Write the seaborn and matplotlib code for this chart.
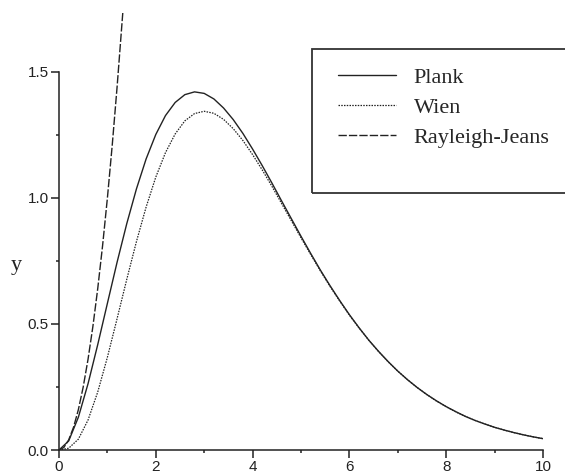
import matplotlib
matplotlib.use("Agg")
import matplotlib.pyplot as plt
import seaborn as sns
from matplotlib.patches import Rectangle
from matplotlib.ticker import MultipleLocator

# values, x step 0.2 from 0 to 10
x_pw = [0.0, 0.2, 0.4, 0.6, 0.8, 1.0, 1.2, 1.4, 1.6, 1.8, 2.0, 2.2, 2.4, 2.6,
        2.8, 3.0, 3.2, 3.4, 3.6, 3.8, 4.0, 4.2, 4.4, 4.6, 4.8, 5.0, 5.2, 5.4,
        5.6, 5.8, 6.0, 6.2, 6.4, 6.6, 6.8, 7.0, 7.2, 7.4, 7.6, 7.8, 8.0, 8.2,
        8.4, 8.6, 8.8, 9.0, 9.2, 9.4, 9.6, 9.8, 10.0]
plank = [0.0, 0.036, 0.130, 0.263, 0.418, 0.582, 0.745, 0.898, 1.036, 1.155,
         1.252, 1.327, 1.379, 1.410, 1.421, 1.415, 1.393, 1.357, 1.311, 1.256,
         1.194, 1.128, 1.059, 0.988, 0.918, 0.848, 0.780, 0.714, 0.652, 0.593,
         0.537, 0.485, 0.436, 0.392, 0.351, 0.313, 0.279, 0.248, 0.220, 0.195,
         0.172, 0.152, 0.133, 0.117, 0.103, 0.090, 0.079, 0.069, 0.060, 0.052,
         0.045]
wien = [0.0, 0.007, 0.043, 0.119, 0.230, 0.368, 0.521, 0.677, 0.827, 0.964,
        1.083, 1.180, 1.254, 1.306, 1.335, 1.344, 1.336, 1.312, 1.275, 1.228,
        1.172, 1.111, 1.046, 0.978, 0.910, 0.842, 0.776, 0.711, 0.649, 0.591,
        0.535, 0.484, 0.436, 0.391, 0.350, 0.313, 0.279, 0.248, 0.220, 0.194,
        0.172, 0.151, 0.133, 0.117, 0.103, 0.090, 0.079, 0.069, 0.060, 0.052,
        0.045]
x_rj = [0.0, 0.1, 0.2, 0.3, 0.4, 0.5, 0.6, 0.7, 0.8, 0.9, 1.0, 1.1, 1.2, 1.3, 1.32]
rayleigh = [0.0, 0.01, 0.04, 0.09, 0.16, 0.25, 0.36, 0.49, 0.64, 0.81, 1.0,
            1.21, 1.44, 1.69, 1.74]

sns.set_style("ticks")
plt.rcParams['font.family'] = ['Liberation Sans', 'DejaVu Sans']
serif = ['Liberation Serif', 'DejaVu Serif']
ink = '#222222'

W, H = 565, 475
fig = plt.figure(figsize=(W / 100, H / 100), dpi=100)
ax = fig.add_axes([59 / W, 25 / H, 484 / W, 437 / H])

sns.lineplot(x=x_pw, y=plank, ax=ax, color=ink, lw=1.0, label='Plank')
sns.lineplot(x=x_pw, y=wien, ax=ax, color=ink, lw=0.9,
             linestyle=(0, (1.2, 1.0)), label='Wien')
sns.lineplot(x=x_rj, y=rayleigh, ax=ax, color=ink, lw=1.0,
             linestyle=(0, (6, 1.5)), label='Rayleigh-Jeans')

ax.set_xlim(0, 10)
ax.set_ylim(0, 1.734)
ax.xaxis.set_major_locator(MultipleLocator(2))
ax.xaxis.set_minor_locator(MultipleLocator(1))
ax.yaxis.set_major_locator(MultipleLocator(0.5))
ax.yaxis.set_minor_locator(MultipleLocator(0.25))
ax.set_yticks([0.0, 0.5, 1.0, 1.5])
ax.set_yticklabels(['0.0', '0.5', '1.0', '1.5'])

sns.despine(ax=ax)
ax.spines['left'].set_bounds(0, 1.5)
for s in ['left', 'bottom']:
    ax.spines[s].set_linewidth(1.1)
    ax.spines[s].set_color(ink)
ax.tick_params(which='major', direction='out', length=6, width=1.1,
               color=ink, labelcolor=ink, labelsize=11, pad=1.5)
ax.tick_params(which='minor', direction='out', length=2.5, width=1.1, color=ink)

ax.set_xlabel('')
ax.set_ylabel('y', rotation=0, family=serif, fontsize=16, color=ink)
ax.yaxis.set_label_coords(-0.089, 0.40)

# legend box, open on the right
fig.patches.append(Rectangle((312 / W, 1 - 193 / H), 260 / W, 144 / H,
                             transform=fig.transFigure, fill=False,
                             edgecolor='#333333', lw=1.3))
ax.legend(loc='upper left', bbox_to_anchor=(338 / W, 1 - 67 / H),
          bbox_transform=fig.transFigure, frameon=False, borderpad=0,
          borderaxespad=0, handlelength=2.6, handletextpad=0.8,
          labelspacing=0.44, prop={'family': serif, 'size': 16})

plt.savefig('out.png', dpi=100)
